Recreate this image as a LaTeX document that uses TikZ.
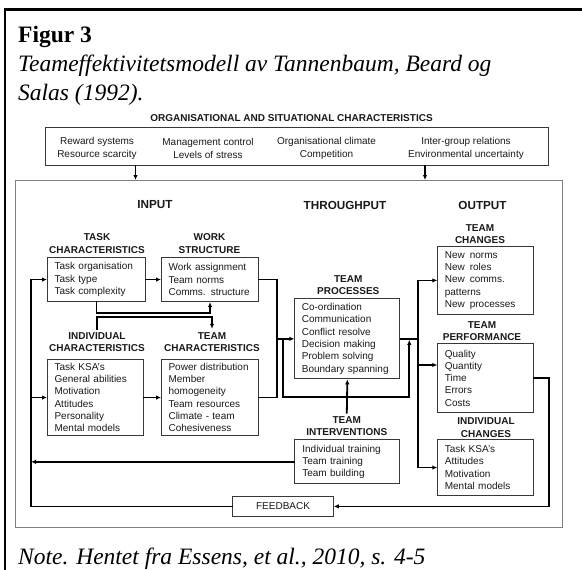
\documentclass[tikz,border=0pt]{standalone}
\usepackage{fontspec}
\setmainfont{Liberation Serif}
\setsansfont{Liberation Sans}
\usetikzlibrary{arrows.meta,calc}

\begin{document}
\begin{tikzpicture}[x=1pt,y=-1pt,
  boxbase/.style={draw=black!78, line width=1.1pt, rectangle, anchor=north west,
    inner xsep=7pt, inner ysep=0pt, align=left, text=black!90,
    font=\sffamily\fontsize{10}{12.3}\selectfont},
  head/.style={font=\sffamily\bfseries\fontsize{10}{12.5}\selectfont, align=center,
    inner sep=1pt, outer sep=2.5pt, text=black!90},
  sect/.style={font=\sffamily\bfseries\fontsize{11.7}{14}\selectfont, inner sep=0pt, text=black!90},
  orgtext/.style={font=\sffamily\fontsize{10}{13}\selectfont, align=center, inner sep=0pt, text=black!90},
  capt/.style={anchor=base west, inner sep=0pt, font=\fontsize{23.5}{29}\selectfont},
  conn/.style={line width=1.8pt, black, line cap=rect},
  arr/.style={conn, -{Latex[length=5pt,width=4.5pt]}},
  ]
\useasboundingbox (0,0) rectangle (582,570);

% page frame
\draw[line width=2.5pt] (5,570) -- (5,9.5) -- (582,9.5);

% caption
\node[capt, font=\bfseries\fontsize{23.5}{29}\selectfont] (title) at (18,42.7) {Figur 3};
\node[capt, font=\itshape\fontsize{23.5}{29}\selectfont] (sub1) at (18,71.7) {Teameffektivitetsmodell av Tannenbaum, Beard og};
\node[capt, font=\itshape\fontsize{23.5}{29}\selectfont] (sub2) at (18,100.7) {Salas (1992).};
\node[capt, font=\itshape\fontsize{23.5}{29}\selectfont] (note) at (18,564) {Note. Hentet fra Essens, et al., 2010, s. 4-5};

% organisational context
\node[head, outer sep=0pt] (orgH) at (291.5,118.3) {ORGANISATIONAL AND SITUATIONAL CHARACTERISTICS};
\node[boxbase, minimum width=503pt, minimum height=38.3pt] (org) at (44.5,126.7) {};
\node[orgtext] (o1) at (97,148.3) {Reward systems\\Resource scarcity};
\node[orgtext] (o2) at (208,148.3) {Management control\\Levels of stress};
\node[orgtext] (o3) at (326.6,148.3) {Organisational climate\\Competition};
\node[orgtext] (o4) at (466,148.3) {Inter-group relations\\Environmental uncertainty};

% team system frame
\node[draw=black!50, line width=1.2pt, anchor=north west, minimum width=546.7pt,
  minimum height=346.7pt, inner sep=0pt] (sys) at (15,180) {};

\node[sect] (inH) at (155,205) {INPUT};
\node[sect] (thH) at (345,205) {THROUGHPUT};
\node[sect] (outH) at (482.5,205) {OUTPUT};

% input boxes
\node[head] (taskH) at (97,243.5) {TASK\\CHARACTERISTICS};
\node[boxbase, minimum width=98pt, minimum height=44pt, text width=84pt] (task) at (47,257)
  {Task organisation\\Task type\\Task complexity};
\node[head] (workH) at (209.5,243.5) {WORK\\STRUCTURE};
\node[boxbase, minimum width=97pt, minimum height=44pt, text width=83pt] (work) at (161,257)
  {Work assignment\\Team norms\\Comms. structure};
\node[head] (indH) at (97,342) {INDIVIDUAL\\CHARACTERISTICS};
\node[boxbase, minimum width=96pt, minimum height=76pt, text width=82pt] (indiv) at (47,359)
  {Task KSA’s\\General abilities\\Motivation\\Attitudes\\Personality\\Mental models};
\node[head] (tchH) at (212,342) {TEAM\\CHARACTERISTICS};
\node[boxbase, minimum width=97pt, minimum height=76pt, text width=83pt] (tchar) at (161,359)
  {Power distribution\\Member\\homogeneity\\Team resources\\Climate - team\\Cohesiveness};

% throughput boxes
\node[head] (procH) at (348.3,285) {TEAM\\PROCESSES};
\node[boxbase, minimum width=105pt, minimum height=80pt, text width=91pt] (proc) at (294.3,298.3)
  {Co-ordination\\Communication\\Conflict resolve\\Decision making\\Problem solving\\Boundary spanning};
\node[head] (intH) at (346.8,426) {TEAM\\INTERVENTIONS};
\node[boxbase, minimum width=105pt, minimum height=44pt, text width=90pt, inner xsep=7.5pt] (interv) at (294.3,439.3)
  {Individual training\\Team training\\Team building};

% output boxes
\node[head] (tchgH) at (480,234) {TEAM\\CHANGES};
\node[boxbase, minimum width=95.4pt, minimum height=68.3pt, text width=81.4pt] (tchg) at (437.3,245.7)
  {New\hspace{5pt}norms\\New\hspace{5pt}roles\\New\hspace{5pt}comms.\\patterns\\New\hspace{5pt}processes};
\node[head] (tperfH) at (482,331) {TEAM\\PERFORMANCE};
\node[boxbase, minimum width=95.4pt, minimum height=68.4pt, text width=81.4pt] (tperf) at (437.3,343.3)
  {Quality\\Quantity\\Time\\Errors\\Costs};
\node[head] (ichgH) at (486,427.5) {INDIVIDUAL\\CHANGES};
\node[boxbase, minimum width=95.4pt, minimum height=56pt, text width=81.4pt] (ichg) at (437.3,439)
  {Task KSA’s\\Attitudes\\Motivation\\Mental models};

% feedback
\node[boxbase, minimum width=100.4pt, minimum height=19.7pt, align=center, inner xsep=0pt] (fb) at (232.3,496)
  {FEEDBACK};

% reference coordinates for the routing
\coordinate (a1) at (135.5,0);
\coordinate (a2) at (425,0);
\coordinate (fbx) at (31,0);
\coordinate (tw) at (0,312.7);
\coordinate (it) at (0,316.7);
\coordinate (j1) at (276.7,0);
\coordinate (j2) at (282.7,0);
\coordinate (j3) at (409.3,0);
\coordinate (yb) at (0,397);
\coordinate (j4) at (418.3,0);
\coordinate (pin) at (437.3,365);
\coordinate (prx) at (549.3,0);

% context into the team system
\draw[arr] (a1 |- org.south) -- (a1 |- sys.north);
\draw[arr] (a2 |- org.south) -- (a2 |- sys.north);

% input relations
\draw[arr] (task.east) -- (work.west);
\draw[arr] (task.south) -- (task.south |- tw) -| (work.south);
\draw[arr] (indH.north) -- (indH.north |- it) -| (tchH.north);
\draw[arr] (indiv.east) -- (tchar.east -| tchar.west);

% inputs to processes
\draw[conn] (work.east) -| (j1 |- tchar.east) -- (tchar.east);
\draw[arr] (j1 |- proc.west) -- (proc.west);
\draw[arr] (j2 |- proc.west) -- (j2 |- yb) -- (j3 |- yb) -- ($(j3 |- proc.east)+(0,1)$);

% interventions
\draw[arr] (intH.north) -- (proc.south);
\draw[arr] (interv.west) -- (fbx |- interv.west);

% outputs
\draw[conn] (proc.east) -- (j4 |- proc.east);
\draw[arr] (j4 |- ichg.west) |- (tchg.west);
\draw[arr] (j4 |- pin) -- (pin);
\draw[arr] (j4 |- ichg.west) -- (ichg.west);

% feedback loop
\draw[arr] (tperf.east) -| (prx |- fb.east) -- (fb.east);
\draw[arr] (fb.west) -| (fbx |- task.west) -- (task.west);
\draw[arr] (fbx |- indiv.west) -- (indiv.west);
\end{tikzpicture}
\end{document}
